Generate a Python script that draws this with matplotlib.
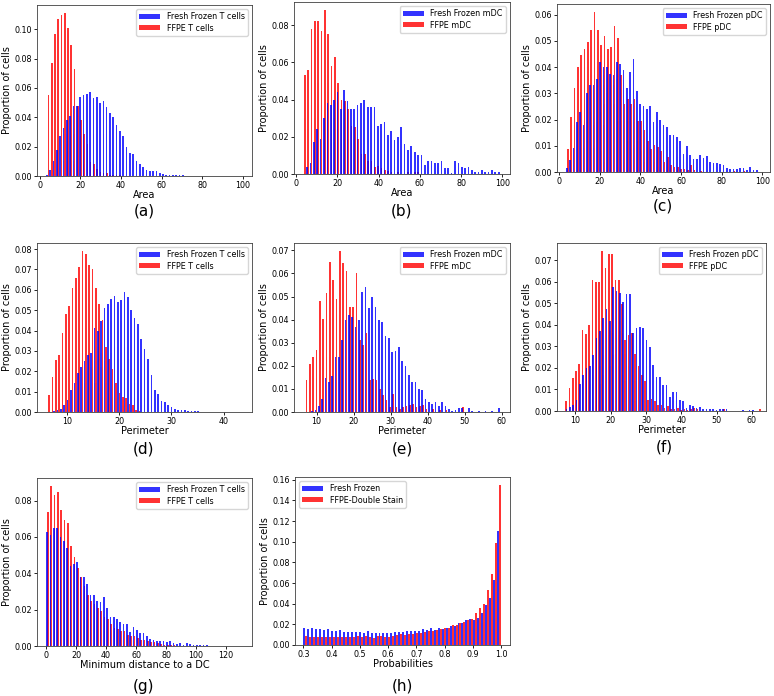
import numpy as np
import matplotlib
matplotlib.use("Agg")
import matplotlib.pyplot as plt
from matplotlib.ticker import MultipleLocator

# ---- data: histogram heights (proportion of cells) ----
# (a) Area, T cells
a_ff_start, a_ff_step = 3.6, 1.63
a_ff = [0.001, 0.004, 0.010, 0.018, 0.0275, 0.033, 0.038, 0.041, 0.048, 0.048,
        0.054, 0.055, 0.056, 0.057, 0.053, 0.054, 0.050, 0.051, 0.047, 0.043,
        0.040, 0.035, 0.031, 0.027, 0.020, 0.016, 0.015, 0.010, 0.008, 0.006,
        0.004, 0.0035, 0.0035, 0.0035, 0.002, 0.0015, 0.001, 0.001, 0.0008,
        0.0006, 0.0005, 0.0004, 0.0003]
a_ffpe_start, a_ffpe_step = 4.4, 1.59
a_ffpe = [0.055, 0.077, 0.097, 0.107, 0.110, 0.111, 0.101, 0.089, 0.073, 0.048,
          0.038, 0.0285, 0.022, 0.0097, 0.0085, 0.005, 0.003, 0.002, 0.002,
          0.001, 0.001, 0.0005, 0.0005]

# (b) Area, mDC
b_ff_start, b_ff_step = 5.3, 1.63
b_ff = [0.004, 0.006, 0.017, 0.024, 0.019, 0.030, 0.038, 0.037, 0.040, 0.044,
        0.035, 0.045, 0.039, 0.035, 0.035, 0.037, 0.038, 0.040, 0.036, 0.036,
        0.036, 0.026, 0.027, 0.028, 0.021, 0.023, 0.018, 0.020, 0.025, 0.016,
        0.013, 0.015, 0.012, 0.010, 0.010, 0.005, 0.007, 0.007, 0.006, 0.006,
        0.007, 0.003, 0.003, 0.0005, 0.007, 0.006, 0.004, 0.003, 0.004, 0.002,
        0.001, 0.001, 0.002, 0.001, 0.001, 0.002, 0.001, 0.001]
b_ffpe_start, b_ffpe_step = 4.1, 1.62
b_ffpe = [0.053, 0.056, 0.078, 0.082, 0.082, 0.077, 0.088, 0.075, 0.058, 0.063,
          0.049, 0.040, 0.039, 0.035, 0.026, 0.025, 0.019, 0.011, 0.011, 0.007,
          0.007, 0.004, 0.0045, 0.003, 0.002, 0.0015, 0.001, 0, 0.001, 0, 0,
          0.001, 0, 0.001, 0.001]

# (c) Area, pDC
c_ff_start, c_ff_step = 3.8, 1.64
c_ff = [0.0015, 0.0045, 0.009, 0.019, 0.023, 0.018, 0.030, 0.033, 0.033, 0.0355,
        0.042, 0.040, 0.040, 0.0375, 0.037, 0.042, 0.041, 0.039, 0.032, 0.038,
        0.043, 0.031, 0.026, 0.025, 0.024, 0.025, 0.019, 0.023, 0.020, 0.018,
        0.017, 0.014, 0.014, 0.0135, 0.012, 0.007, 0.010, 0.0065, 0.005, 0.005,
        0.0065, 0.0055, 0.006, 0.004, 0.0035, 0.0035, 0.003, 0.0025, 0.0015,
        0.0012, 0.0012, 0.001, 0.0014, 0.0016, 0.0009, 0.0018, 0.0006, 0.0008]
c_ffpe_start, c_ffpe_step = 4.3, 1.64
c_ffpe = [0.0088, 0.021, 0.032, 0.040, 0.0445, 0.047, 0.0496, 0.054, 0.061, 0.054,
          0.0486, 0.052, 0.047, 0.0476, 0.0558, 0.051, 0.037, 0.026, 0.028, 0.026,
          0.028, 0.0193, 0.0193, 0.016, 0.012, 0.0088, 0.0103, 0.0095, 0.008,
          0.004, 0.0057, 0.0027, 0.0019, 0.0019, 0.0013, 0.0013, 0.0006, 0.0028,
          0.0006, 0, 0.0003, 0, 0, 0, 0, 0, 0, 0, 0, 0, 0.0003, 0, 0, 0.0005]

# (d) Perimeter, T cells
d_ff_start, d_ff_step = 7.6, 0.64
d_ff = [0.0005, 0.0012, 0.0015, 0.0035, 0.0057, 0.011, 0.014, 0.019, 0.022, 0.025,
        0.028, 0.029, 0.041, 0.040, 0.0445, 0.051, 0.053, 0.0557, 0.0567, 0.054,
        0.055, 0.0588, 0.0562, 0.050, 0.046, 0.043, 0.036, 0.031, 0.026, 0.018,
        0.011, 0.0088, 0.0053, 0.0048, 0.0035, 0.0025, 0.0015, 0.0012, 0.0008,
        0.0008, 0.0005, 0.0005, 0.0003, 0.0003, 0, 0, 0, 0, 0, 0, 0, 0, 0.0002,
        0, 0, 0, 0, 0, 0.0002]
d_ffpe_start, d_ffpe_step = 6.6, 0.64
d_ffpe = [0.0085, 0.017, 0.0254, 0.0279, 0.039, 0.048, 0.052, 0.061, 0.066, 0.071,
          0.079, 0.0775, 0.072, 0.070, 0.061, 0.053, 0.045, 0.032, 0.0262, 0.0213,
          0.014, 0.0095, 0.0074, 0.0069, 0.004, 0.0036, 0.0008, 0.0003]

# (e) Perimeter, mDC
e_ff_start, e_ff_step = 8.8, 0.9
e_ff = [0.0005, 0.001, 0.0028, 0.0058, 0.0148, 0.013, 0.0155, 0.0238, 0.024, 0.031,
        0.040, 0.042, 0.041, 0.037, 0.040, 0.052, 0.054, 0.045, 0.050, 0.0455,
        0.040, 0.039, 0.033, 0.032, 0.026, 0.0265, 0.028, 0.022, 0.020, 0.016,
        0.013, 0.013, 0.010, 0.0095, 0.0055, 0.0045, 0.0035, 0.0045, 0.0025,
        0.0045, 0.0028, 0.0015, 0.0006, 0.0008, 0.0017, 0.0017, 0, 0.0017,
        0.0005, 0, 0.0005, 0, 0.0005, 0, 0.0005, 0, 0.0018]
e_ffpe_start, e_ffpe_step = 7.3, 0.9
e_ffpe = [0.0137, 0.0206, 0.024, 0.0267, 0.048, 0.0404, 0.0515, 0.065, 0.057, 0.049,
          0.0697, 0.0646, 0.061, 0.0454, 0.0454, 0.060, 0.031, 0.029, 0.034, 0.014,
          0.0145, 0.014, 0.010, 0.0075, 0.005, 0.002, 0.0076, 0.002, 0.0015, 0.002,
          0.0025, 0.003, 0.0035, 0.002, 0.0025, 0.003, 0.0015, 0, 0.0015, 0, 0.001,
          0, 0.001, 0, 0, 0, 0, 0.002]

# (f) Perimeter, pDC
f_ff_start, f_ff_step = 7.5, 0.943
f_ff = [0.001, 0.0018, 0.003, 0.005, 0.0125, 0.0168, 0.020, 0.0208, 0.026, 0.034,
        0.037, 0.043, 0.0475, 0.042, 0.0577, 0.0555, 0.0548, 0.0508, 0.0543, 0.0543,
        0.036, 0.0385, 0.0392, 0.0385, 0.0328, 0.0295, 0.0215, 0.016, 0.016, 0.012,
        0.012, 0.0065, 0.009, 0.0088, 0.005, 0.0045, 0.0015, 0.003, 0.0025, 0.0015,
        0.0018, 0.0008, 0.0008, 0.001, 0.0008, 0.0005, 0.0008, 0.0008, 0.0008,
        0, 0, 0, 0, 0.0005, 0, 0.0005, 0.0005]
f_ffpe_start, f_ffpe_step = 7.4, 0.93
f_ffpe = [0.0046, 0.0106, 0.0152, 0.0186, 0.022, 0.0374, 0.0358, 0.040, 0.0607, 0.0597,
          0.0597, 0.0743, 0.0662, 0.0728, 0.0728, 0.061, 0.061, 0.0496, 0.033, 0.0355,
          0.036, 0.0266, 0.021, 0.0165, 0.0138, 0.005, 0.0055, 0.0048, 0.003, 0.0027,
          0.0013, 0.0025, 0.0008, 0.001, 0.0013, 0.0005, 0.0008, 0.0005, 0.0008,
          0.0013, 0.001, 0, 0, 0, 0, 0, 0, 0, 0.001, 0, 0, 0, 0, 0, 0, 0, 0, 0, 0,
          0.0008]

# (g) Minimum distance to a DC, T cells
g_ff_start, g_ff_step = 0.7, 2.22
g_ff = [0.0625, 0.061, 0.065, 0.065, 0.060, 0.058, 0.054, 0.044, 0.045, 0.046,
        0.038, 0.038, 0.034, 0.028, 0.028, 0.025, 0.024, 0.027, 0.021, 0.016,
        0.016, 0.015, 0.013, 0.012, 0.012, 0.0075, 0.0105, 0.009, 0.007, 0.007,
        0.0055, 0.004, 0.0035, 0.003, 0.0028, 0.0025, 0.002, 0.0025, 0.0015,
        0.0012, 0.0018, 0.0008, 0.0015, 0.0012, 0.0008, 0.0008, 0.0006, 0.0005,
        0.0003, 0.0002, 0.0002, 0.0002]
g_ffpe_start, g_ffpe_step = 1.3, 2.22
g_ffpe = [0.0737, 0.088, 0.083, 0.0847, 0.0746, 0.0695, 0.0676, 0.055, 0.049, 0.043,
          0.038, 0.033, 0.028, 0.025, 0.023, 0.021, 0.019, 0.016, 0.015, 0.012,
          0.0098, 0.0095, 0.008, 0.008, 0.006, 0.0055, 0.0055, 0.0045, 0.0035,
          0.0035, 0.0025, 0.0022, 0.002, 0.0015, 0.001, 0.0008, 0.0006, 0.0004,
          0.0003, 0.0002]

# (h) Probabilities (shared bins, side by side)
h_ff_start, h_ff_step = 0.3035, 0.014
h_ff = [0.0162, 0.0153, 0.016, 0.0156, 0.0153, 0.015, 0.0153, 0.014, 0.014, 0.015,
        0.0127, 0.0127, 0.013, 0.0127, 0.0127, 0.012, 0.0133, 0.0117, 0.0117, 0.0117,
        0.0117, 0.0117, 0.0117, 0.0127, 0.013, 0.013, 0.0136, 0.0136, 0.0136, 0.0136,
        0.0153, 0.0146, 0.0169, 0.0146, 0.0162, 0.0156, 0.016, 0.0185, 0.0185, 0.021,
        0.021, 0.0243, 0.0256, 0.0243, 0.026, 0.031, 0.039, 0.046, 0.063, 0.110]
h_ffpe_start, h_ffpe_step = 0.3105, 0.014
h_ffpe = [0.0090, 0.0078, 0.0080, 0.0080, 0.0080, 0.0080, 0.0080, 0.0082, 0.0078, 0.0078,
          0.0078, 0.0080, 0.0080, 0.0088, 0.0080, 0.0088, 0.0080, 0.0070, 0.0088, 0.0088,
          0.0082, 0.0082, 0.0085, 0.0094, 0.0107, 0.0100, 0.0110, 0.0107, 0.0117, 0.0117,
          0.0127, 0.0140, 0.0140, 0.0146, 0.0153, 0.0162, 0.0169, 0.0190, 0.0197, 0.0210,
          0.0220, 0.0243, 0.0250, 0.0310, 0.0360, 0.0400, 0.0535, 0.0690, 0.0990, 0.1550]

W, H = 774, 696
fig = plt.figure(figsize=(W / 100, H / 100), dpi=100)


def add_ax(l, r, t, b):
    return fig.add_axes([l / W, 1 - b / H, (r - l) / W, (b - t) / H])


def panel(ax, ff, ffpe, labels, xlabel, xlim, xstep, ystep, loc="upper right"):
    for (x0, step, vals), col, lab in zip([ff, ffpe], ["blue", "red"], labels):
        x = x0 + step * np.arange(len(vals))
        ax.bar(x, vals, width=step * 0.5, color=col, alpha=0.8, label=lab,
               linewidth=0, zorder=3 if col == "blue" else 2)
    ax.set_xlim(*xlim)
    ax.set_ylim(0, max(max(ff[2]), max(ffpe[2])) * 1.05)
    ax.xaxis.set_major_locator(MultipleLocator(xstep))
    ax.yaxis.set_major_locator(MultipleLocator(ystep))
    if xstep < 1:
        ax.xaxis.set_major_formatter(plt.FormatStrFormatter("%.1f"))
    ax.yaxis.set_major_formatter(plt.FormatStrFormatter("%.2f"))
    ax.tick_params(labelsize=5.8, length=2, width=0.6, pad=1.5)
    for s in ax.spines.values():
        s.set_linewidth(0.6)
        s.set_color("0.25")
    ax.set_xlabel(xlabel, fontsize=7, labelpad=0)
    ax.set_ylabel("Proportion of cells", fontsize=7, labelpad=2)
    h, l = ax.get_legend_handles_labels()
    ax.legend(h, l, loc=loc, fontsize=5.8, handlelength=2.6, handleheight=0.6,
              borderpad=0.4, labelspacing=0.3, framealpha=0.8, edgecolor="0.8")


ax = add_ax(37, 252, 5, 176)
panel(ax, (a_ff_start, a_ff_step, a_ff), (a_ffpe_start, a_ffpe_step, a_ffpe),
      ["Fresh Frozen T cells", "FFPE T cells"], "Area", (-1.3, 104.4), 20, 0.02)
ax = add_ax(294, 510, 2, 174)
panel(ax, (b_ff_start, b_ff_step, b_ff), (b_ffpe_start, b_ffpe_step, b_ffpe),
      ["Fresh Frozen mDC", "FFPE mDC"], "Area", (-1.1, 103.7), 20, 0.02)
ax = add_ax(557, 770, 4, 172)
panel(ax, (c_ff_start, c_ff_step, c_ff), (c_ffpe_start, c_ffpe_step, c_ffpe),
      ["Fresh Frozen pDC", "FFPE pDC"], "Area", (-1.1, 103.8), 20, 0.01)
ax = add_ax(37, 252, 243, 412)
panel(ax, (d_ff_start, d_ff_step, d_ff), (d_ffpe_start, d_ffpe_step, d_ffpe),
      ["Fresh Frozen T cells", "FFPE T cells"], "Perimeter", (4.3, 45.4), 10, 0.01)
ax = add_ax(294, 510, 243, 412)
panel(ax, (e_ff_start, e_ff_step, e_ff), (e_ffpe_start, e_ffpe_step, e_ffpe),
      ["Fresh Frozen mDC", "FFPE mDC"], "Perimeter", (3.9, 62.2), 10, 0.01)
ax = add_ax(557, 766, 243, 411)
panel(ax, (f_ff_start, f_ff_step, f_ff), (f_ffpe_start, f_ffpe_step, f_ffpe),
      ["Fresh Frozen pDC", "FFPE pDC"], "Perimeter", (4.8, 64.0), 10, 0.01)
ax = add_ax(37, 252, 478, 646)
panel(ax, (g_ff_start, g_ff_step, g_ff), (g_ffpe_start, g_ffpe_step, g_ffpe),
      ["Fresh Frozen T cells", "FFPE T cells"], "Minimum distance to a DC",
      (-6, 137.3), 20, 0.02)
ax = add_ax(295, 510, 477, 645)
panel(ax, (h_ff_start, h_ff_step, h_ff), (h_ffpe_start, h_ffpe_step, h_ffpe),
      ["Fresh Frozen", "FFPE-Double Stain"], "Probabilities", (0.27, 1.032), 0.1, 0.02,
      loc="upper left")

# panel letters
letters = ["(a)", "(b)", "(c)", "(d)", "(e)", "(f)", "(g)", "(h)"]
letter_pos = [(144, 211), (401, 211), (663, 206), (143, 449), (402, 449),
              (664, 447), (143, 686), (402, 686)]
for t, (px, py) in zip(letters, letter_pos):
    fig.text(px / W, 1 - py / H, t, fontsize=11, ha="center", va="center")

fig.savefig("out.png", dpi=100)
